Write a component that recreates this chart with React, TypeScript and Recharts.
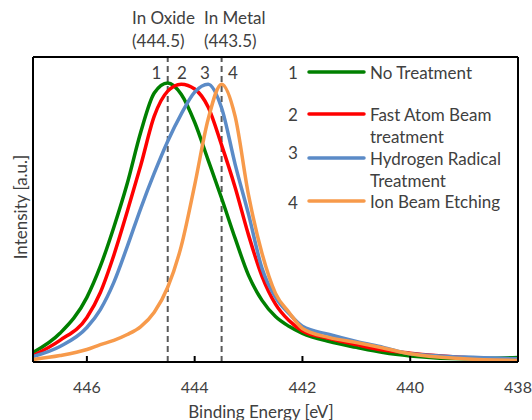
import React from "react";
import {
  LineChart,
  Line,
  XAxis,
  YAxis,
  ReferenceLine,
  Customized,
} from "recharts";

const energies = [
  447, 446.5, 446, 445.75, 445.5, 445.25, 445, 444.75, 444.5, 444.25, 444,
  443.75, 443.5, 443.25, 443, 442.75, 442.5, 442.25, 442, 441.5, 441, 440.5,
  440, 439, 438,
];

const noTreatment = [
  0.031, 0.094, 0.212, 0.314, 0.442, 0.586, 0.754, 0.882, 0.915, 0.878, 0.786,
  0.662, 0.537, 0.406, 0.284, 0.202, 0.149, 0.117, 0.094, 0.067, 0.048, 0.031,
  0.02, 0.011, 0.015,
];

const fastAtomBeam = [
  0.021, 0.071, 0.146, 0.228, 0.35, 0.494, 0.645, 0.806, 0.888, 0.911, 0.895,
  0.836, 0.711, 0.573, 0.416, 0.281, 0.19, 0.136, 0.102, 0.077, 0.057, 0.039,
  0.029, 0.015, 0.007,
];

const hydrogenRadical = [
  0.018, 0.051, 0.113, 0.172, 0.261, 0.379, 0.504, 0.619, 0.724, 0.813, 0.885,
  0.911, 0.833, 0.649, 0.484, 0.307, 0.212, 0.159, 0.117, 0.09, 0.067, 0.048,
  0.027, 0.016, 0.011,
];

const ionBeamEtching = [
  0.008, 0.021, 0.041, 0.057, 0.071, 0.09, 0.116, 0.163, 0.245, 0.379, 0.58,
  0.796, 0.911, 0.806, 0.547, 0.356, 0.225, 0.163, 0.11, 0.08, 0.064, 0.046,
  0.027, 0.011, 0.005,
];

const xTicks = [446, 444, 442, 440, 438];
const referenceEnergies = [444.5, 443.5];

const seriesKeys = ["s1", "s2", "s3", "s4"];
const seriesNumbers = ["1", "2", "3", "4"];
const seriesLabels = [
  ["No Treatment"],
  ["Fast Atom Beam", "treatment"],
  ["Hydrogen Radical", "Treatment"],
  ["Ion Beam Etching"],
];
const seriesColors = ["#008000", "#FF0000", "#5B8BC7", "#F79A4B"];
const seriesValues = [noTreatment, fastAtomBeam, hydrogenRadical, ionBeamEtching];

const data = energies.map((e, i) => {
  const row: Record<string, number> = { e };
  seriesKeys.forEach((k, j) => {
    row[k] = seriesValues[j][i];
  });
  return row;
});

const FONT = "Lato, 'Noto Sans', sans-serif";
const TEXT = "#404040";
const FS = 17;

const Annotations = () => {
  const legendLineY = [72, 114, 158, 201];
  const legendNumY = [72, 114, 152, 202];
  const legendTextY = [[72], [114, 136], [158, 180], [201]];
  const peakNumX = [156.5, 182, 205, 233];
  return (
    <g fontFamily={FONT} fill={TEXT} fontSize={FS}>
      <text x={132} y={17} dominantBaseline="central">In Oxide</text>
      <text x={132} y={40} dominantBaseline="central">(444.5)</text>
      <text x={204} y={17} dominantBaseline="central">In Metal</text>
      <text x={204} y={40} dominantBaseline="central">(443.5)</text>
      {seriesNumbers.map((n, i) => (
        <text key={"p" + i} x={peakNumX[i]} y={72} textAnchor="middle" dominantBaseline="central">
          {n}
        </text>
      ))}
      {seriesNumbers.map((n, i) => (
        <g key={"l" + i}>
          <text x={293} y={legendNumY[i]} textAnchor="middle" dominantBaseline="central">
            {n}
          </text>
          <line x1={309} x2={364} y1={legendLineY[i]} y2={legendLineY[i]} stroke={seriesColors[i]} strokeWidth={3.5} strokeLinecap="round" />
          {seriesLabels[i].map((t, k) => (
            <text key={k} x={370} y={legendTextY[i][k]} dominantBaseline="central">
              {t}
            </text>
          ))}
        </g>
      ))}
      <text x={261} y={411} textAnchor="middle" dominantBaseline="central">
        Binding Energy [eV]
      </text>
      <text
        x={20}
        y={207}
        textAnchor="middle"
        dominantBaseline="central"
        transform="rotate(-90 20 207)"
      >
        Intensity [a.u.]
      </text>
    </g>
  );
};

export default function App() {
  return (
    <div style={{ width: 532, height: 420 }}>
      <style>{`body{margin:0;}`}</style>
      <LineChart
        width={532}
        height={420}
        data={data}
        margin={{ top: 56, right: 13, bottom: 57, left: 32 }}
      >
        <XAxis
          xAxisId="bottom"
          dataKey="e"
          type="number"
          domain={[438, 447]}
          reversed
          ticks={xTicks}
          allowDataOverflow
          height={1}
          axisLine={{ stroke: "#000", strokeWidth: 2 }}
          tickLine={{ stroke: "#000", strokeWidth: 2 }}
          tickSize={-6}
          tickMargin={26}
          tick={{ fill: TEXT, fontSize: 16, fontFamily: FONT }}
        />
        <XAxis
          xAxisId="top"
          orientation="top"
          dataKey="e"
          type="number"
          domain={[438, 447]}
          reversed
          height={1}
          tick={false}
          tickLine={false}
          axisLine={{ stroke: "#000", strokeWidth: 2 }}
        />
        <YAxis
          yAxisId="left"
          domain={[0, 1]}
          width={1}
          tick={false}
          tickLine={false}
          axisLine={{ stroke: "#000", strokeWidth: 2 }}
        />
        <YAxis
          yAxisId="right"
          orientation="right"
          domain={[0, 1]}
          width={1}
          tick={false}
          tickLine={false}
          axisLine={{ stroke: "#000", strokeWidth: 2 }}
        />
        {referenceEnergies.map((x) => (
          <ReferenceLine
            key={x}
            x={x}
            xAxisId="bottom"
            yAxisId="left"
            stroke="#595959"
            strokeWidth={2}
            strokeDasharray="6 4"
          />
        ))}
        {seriesKeys.map((k, i) => (
          <Line
            key={k}
            dataKey={k}
            xAxisId="bottom"
            yAxisId="left"
            type="monotone"
            stroke={seriesColors[i]}
            strokeWidth={3.5}
            dot={false}
            isAnimationActive={false}
          />
        ))}
        <Customized component={Annotations} />
      </LineChart>
    </div>
  );
}
